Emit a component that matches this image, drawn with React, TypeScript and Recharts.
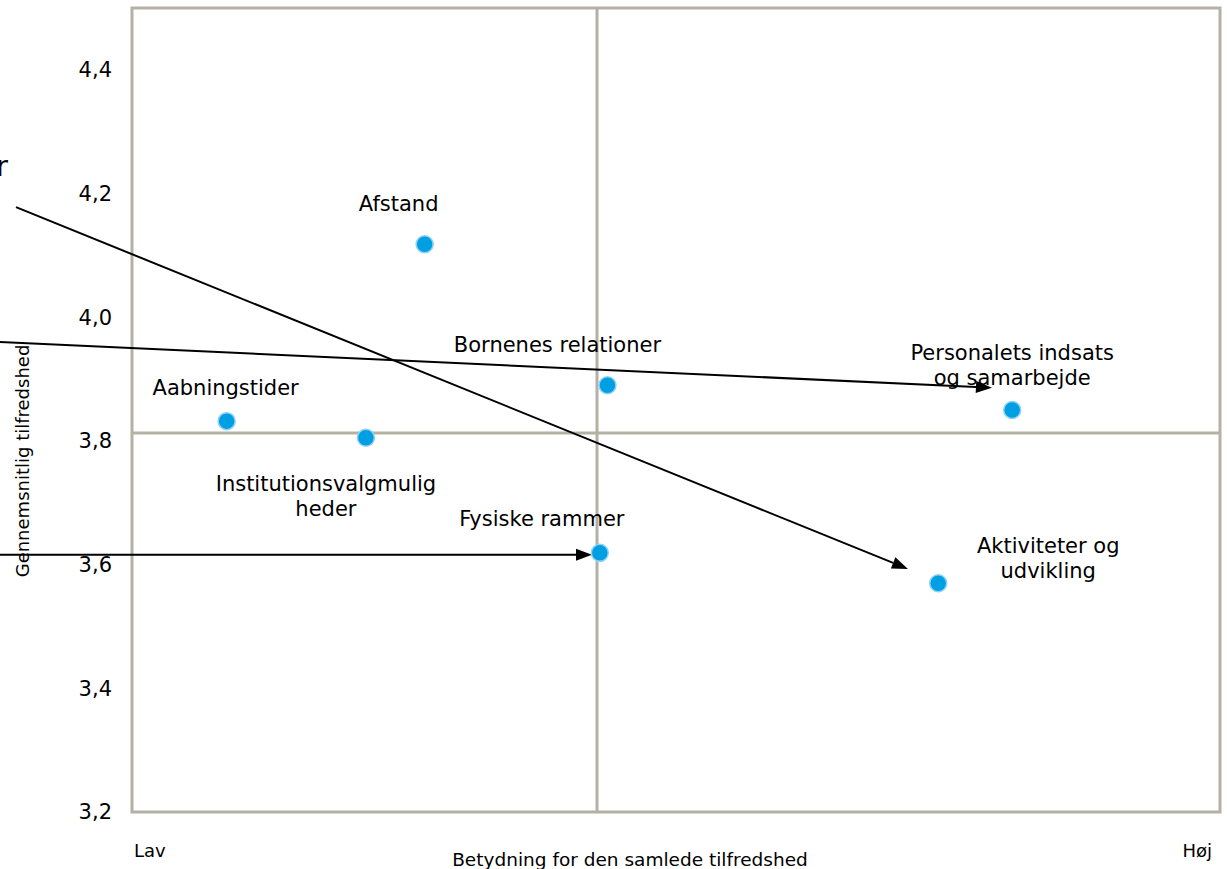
import React from "react";
import { ScatterChart, Scatter, XAxis, YAxis, ReferenceLine, ReferenceArea } from "recharts";

// data
const factors = [
  "Afstand",
  "Bornenes relationer",
  "Aabningstider",
  "Institutionsvalgmulig\nheder",
  "Fysiske rammer",
  "Personalets indsats\nog samarbejde",
  "Aktiviteter og\nudvikling",
];
const importance = [26.9, 43.7, 8.7, 21.5, 43.0, 80.9, 74.1];
const satisfaction = [4.118, 3.89, 3.832, 3.805, 3.619, 3.85, 3.57];

const yTicks = [3.2, 3.4, 3.6, 3.8, 4.0, 4.2, 4.4];
const xTicks = [0, 100];
const xTickLabels = ["Lav", "Høj"];

const quadrantX = 42.74;
const quadrantY = 3.813;

// annotation arrows (start -> end, data units)
const arrowFrom = [
  { x: -10.66, y: 4.178 },
  { x: -12.13, y: 3.96 },
  { x: -12.13, y: 3.616 },
];
const arrowTo = [
  { x: 71.32, y: 3.593 },
  { x: 79.04, y: 3.886 },
  { x: 42.28, y: 3.616 },
];

// label placement relative to each dot (px): [dx, dy of first line centre]
const LABEL_OFFSETS: [number, number][] = [
  [-26, -41],
  [-50, -41],
  [-1, -34],
  [-40, 46],
  [-58, -34],
  [0, -58],
  [110, -38],
];

const FONT = "'DejaVu Sans', Verdana, sans-serif";
const FRAME = "#b3b1a4";
const DOT = "#009fe3";

const points = factors.map((name, i) => ({ name, i, x: importance[i], y: satisfaction[i] }));

function PointShape(props: any) {
  const { cx, cy, payload } = props;
  const [dx, dy] = LABEL_OFFSETS[payload.i];
  const lines = String(payload.name).split("\n");
  return (
    <g>
      <circle cx={cx} cy={cy} r={8.5} fill={DOT} stroke="#8fd3f3" strokeWidth={1.5} />
      {lines.map((l, k) => (
        <text
          key={k}
          x={cx + dx}
          y={cy + dy + 7.5 + k * 25}
          textAnchor="middle"
          fontSize={21}
          fontFamily={FONT}
          fill="#000"
        >
          {l}
        </text>
      ))}
    </g>
  );
}

function ArrowShape(props: any) {
  const { x1, y1, x2, y2 } = props;
  const a = Math.atan2(y2 - y1, x2 - x1);
  const c = Math.cos(a);
  const s = Math.sin(a);
  const L = 16;
  const W = 6;
  const bx = x2 - L * c;
  const by = y2 - L * s;
  return (
    <g>
      <line x1={x1} y1={y1} x2={bx} y2={by} stroke="#000" strokeWidth={2} />
      <polygon
        points={`${x2},${y2} ${bx - s * W},${by + c * W} ${bx + s * W},${by - c * W}`}
        fill="#000"
      />
    </g>
  );
}

function XTick(props: any) {
  const { x, y, payload } = props;
  const first = payload.value === xTicks[0];
  return (
    <text
      x={first ? x + 2 : x - 3}
      y={y + 45}
      textAnchor={first ? "start" : "end"}
      fontSize={18}
      fontFamily={FONT}
      fill="#000"
    >
      {first ? xTickLabels[0] : xTickLabels[1]}
    </text>
  );
}

export default function App() {
  return (
    <div style={{ position: "absolute", left: 0, top: 0, width: 1227, height: 869, background: "#fff" }}>
      <span
        style={{
          position: "absolute",
          left: -4,
          top: 152,
          fontSize: 29,
          lineHeight: "29px",
          fontFamily: FONT,
          color: "#000",
        }}
      >
        r
      </span>
      <ScatterChart width={1227} height={869} margin={{ top: 8, right: 7, bottom: 0, left: 0 }}>
        <XAxis
          type="number"
          dataKey="x"
          domain={[0, 100]}
          ticks={xTicks}
          allowDataOverflow
          axisLine={false}
          tickLine={false}
          tickSize={0}
          tickMargin={0}
          height={57}
          tick={<XTick />}
          label={{
            content: (p: any) => {
              const vb = p.viewBox;
              return (
                <text
                  x={vb.x + vb.width / 2 - 46}
                  y={866}
                  textAnchor="middle"
                  fontSize={18.5}
                  fontFamily={FONT}
                  fill="#000"
                >
                  Betydning for den samlede tilfredshed
                </text>
              );
            },
          }}
        />
        <YAxis
          type="number"
          dataKey="y"
          domain={[3.2, 4.5]}
          ticks={yTicks}
          allowDataOverflow
          width={132}
          axisLine={false}
          tickLine={false}
          tickSize={0}
          tickMargin={20}
          tickFormatter={(v: number) => v.toFixed(1).replace(".", ",")}
          tick={{ fontSize: 21, fontFamily: FONT, fill: "#000" }}
          label={{
            content: () => (
              <text
                x={29}
                y={461}
                transform="rotate(-90, 29, 461)"
                textAnchor="middle"
                fontSize={18}
                fontFamily={FONT}
                fill="#000"
              >
                Gennemsnitlig tilfredshed
              </text>
            ),
          }}
        />
        <ReferenceArea x1={0} x2={100} y1={3.2} y2={4.5} fill="none" stroke={FRAME} strokeWidth={3} />
        <ReferenceLine x={quadrantX} stroke={FRAME} strokeWidth={3} />
        <ReferenceLine y={quadrantY} stroke={FRAME} strokeWidth={3} />
        {arrowFrom.map((p, i) => (
          <ReferenceLine
            key={i}
            segment={[p, arrowTo[i]]}
            ifOverflow="visible"
            shape={<ArrowShape />}
          />
        ))}
        <Scatter data={points} shape={<PointShape />} isAnimationActive={false} />
      </ScatterChart>
    </div>
  );
}
